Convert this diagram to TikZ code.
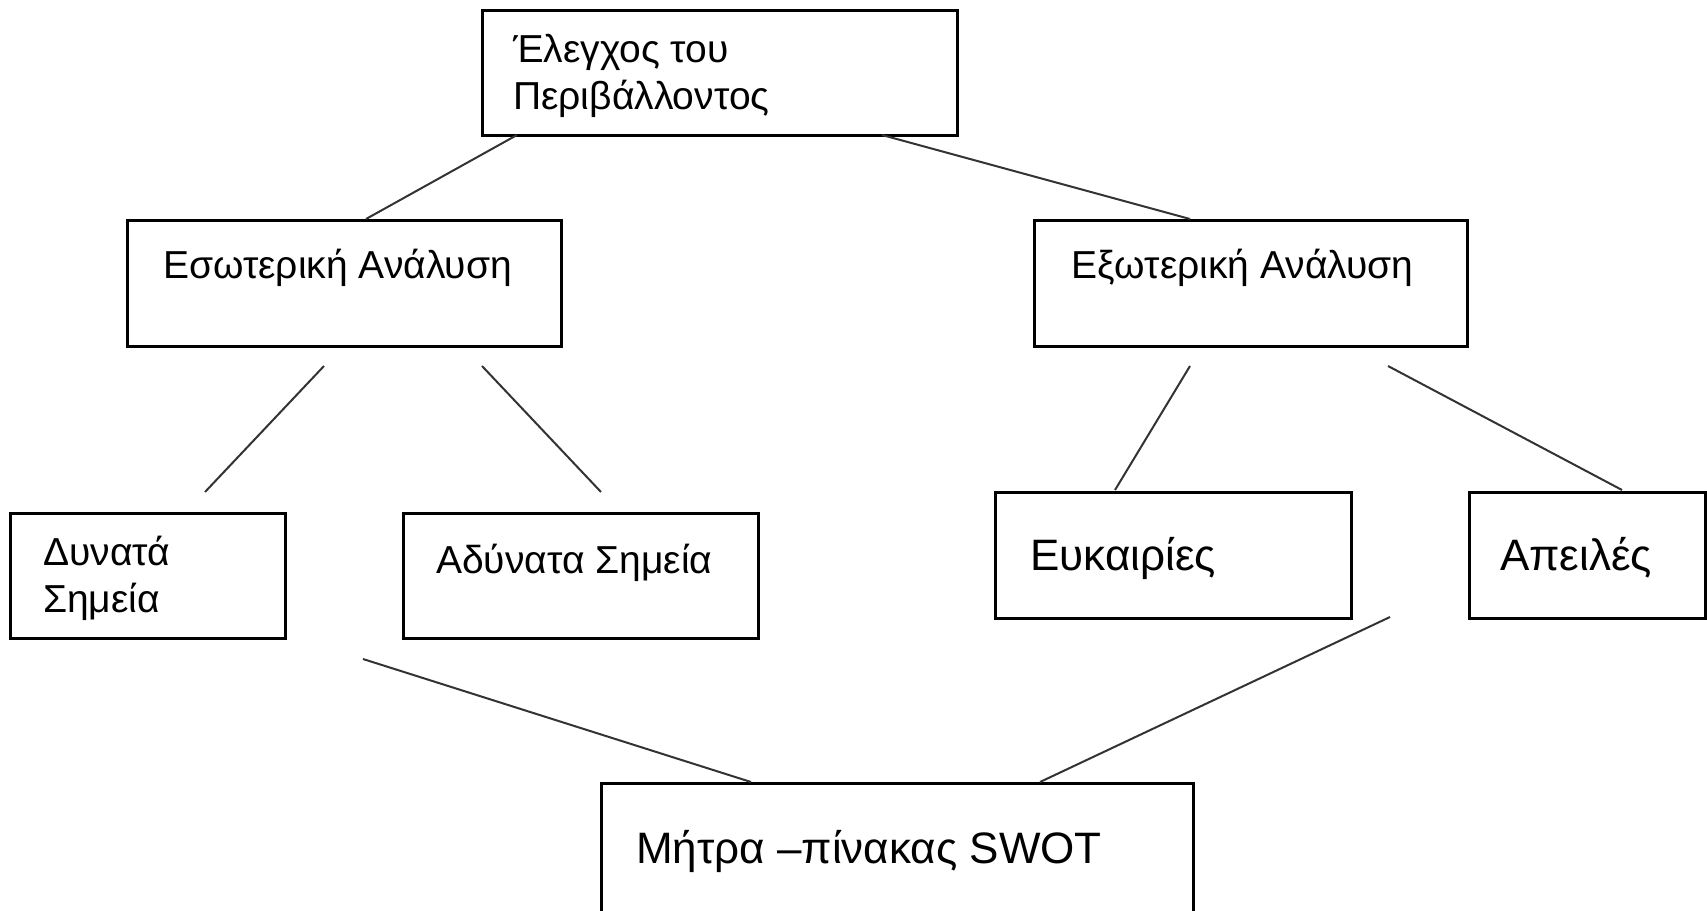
\documentclass[tikz,border=0pt]{standalone}
\usepackage{fontspec}
\setmainfont{Liberation Sans}
\begin{document}
\begin{tikzpicture}[x=1pt,y=-1pt,
  box/.style={draw=black,line width=2.8pt,fill=none,inner sep=0pt,anchor=north west},
  lbl/.style={inner sep=0pt,anchor=base west,align=left,font=\fontsize{39}{47}\selectfont},
  biglbl/.style={inner sep=0pt,anchor=base west,align=left,font=\fontsize{44}{52}\selectfont},
  conn/.style={draw=black!80,line width=2pt}]
\useasboundingbox (0,0) rectangle (1707,910);
% boxes
\node[box,minimum width=475pt,minimum height=125pt] (top) at (481,9) {};
\node[box,minimum width=434pt,minimum height=126pt] (esw) at (126,219) {};
\node[box,minimum width=433pt,minimum height=126pt] (exw) at (1033,219) {};
\node[box,minimum width=275pt,minimum height=125pt] (dyn) at (9,512) {};
\node[box,minimum width=355pt,minimum height=125pt] (ady) at (402,512) {};
\node[box,minimum width=356pt,minimum height=126pt] (euk) at (994,491) {};
\node[box,minimum width=236pt,minimum height=126pt] (ape) at (1468,491) {};
\node[box,minimum width=592pt,minimum height=130pt] (swot) at (600,782) {};
% texts (multi-line nodes: base = last line's baseline)
\node[lbl] (topT) at (513,109) {Έλεγχος του\\Περιβάλλοντος};
\node[lbl] (eswT) at (163,278) {Εσωτερική Ανάλυση};
\node[lbl] (exwT) at (1071,278) {Εξωτερική Ανάλυση};
\node[lbl] (dynT) at (43,612) {Δυνατά\\Σημεία};
\node[lbl] (adyT) at (436,573) {Αδύνατα Σημεία};
\node[biglbl] (eukT) at (1030,570) {Ευκαιρίες};
\node[biglbl] (apeT) at (1500,570) {Απειλές};
\node[biglbl] (swotT) at (636,863) {Μήτρα –πίνακας SWOT};
% connector ends
\coordinate (c1a) at (517,135);  \coordinate (c1b) at (366,219);
\coordinate (c2a) at (882,135);  \coordinate (c2b) at (1190,219);
\coordinate (c3a) at (324,366);  \coordinate (c3b) at (205,492);
\coordinate (c4a) at (482,366);  \coordinate (c4b) at (601,492);
\coordinate (c5a) at (1190,366); \coordinate (c5b) at (1115,490);
\coordinate (c6a) at (1388,366); \coordinate (c6b) at (1622,490);
\coordinate (c7a) at (363,659);  \coordinate (c7b) at (751,782);
\coordinate (c8a) at (1390,617); \coordinate (c8b) at (1040,782);
\draw[conn] (c1a) -- (c1b);
\draw[conn] (c2a) -- (c2b);
\draw[conn] (c3a) -- (c3b);
\draw[conn] (c4a) -- (c4b);
\draw[conn] (c5a) -- (c5b);
\draw[conn] (c6a) -- (c6b);
\draw[conn] (c7a) -- (c7b);
\draw[conn] (c8a) -- (c8b);
\end{tikzpicture}
\end{document}
